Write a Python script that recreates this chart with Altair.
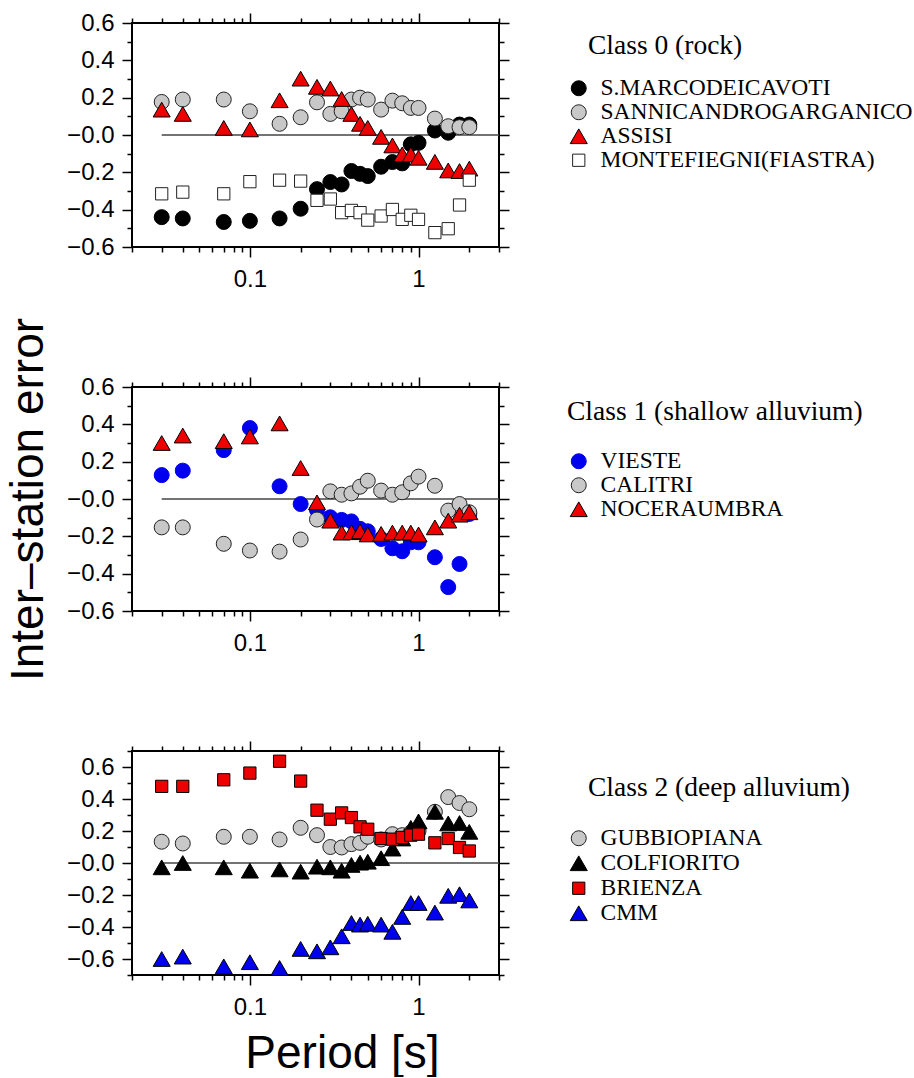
import altair as alt
import pandas as pd

# ---------------- data ----------------
periods = [0.03, 0.04, 0.07, 0.1, 0.15, 0.2, 0.25, 0.3, 0.35, 0.4, 0.45, 0.5,
           0.6, 0.7, 0.8, 0.9, 1.0, 1.25, 1.5, 1.75, 2.0]

# Class 0 (rock)
smarco = [-0.44, -0.447, -0.466, -0.46, -0.447, -0.395, -0.29, -0.252, -0.265, -0.193, -0.208,
          -0.22, -0.17, -0.145, -0.152, -0.05, -0.042, 0.024, 0.012, 0.056, 0.056]
sannic = [0.177, 0.19, 0.19, 0.127, 0.06, 0.095, 0.175, 0.113, 0.127, 0.19, 0.2,
          0.19, 0.136, 0.184, 0.17, 0.145, 0.145, 0.088, 0.047, 0.042, 0.042]
assisi = [0.136, 0.113, 0.038, 0.03, 0.186, 0.302, 0.258, 0.249, 0.193, 0.113, 0.06,
          0.038, -0.01, -0.056, -0.104, -0.104, -0.122, -0.144, -0.19, -0.193, -0.18]
montef = [-0.315, -0.306, -0.315, -0.25, -0.242, -0.247, -0.35, -0.343, -0.416, -0.404, -0.416,
          -0.456, -0.434, -0.399, -0.452, -0.43, -0.452, -0.523, -0.502, -0.375, -0.242]

# Class 1 (shallow alluvium)
vieste = [0.128, 0.152, 0.262, 0.38, 0.068, -0.027, -0.059, -0.098, -0.112, -0.12, -0.16,
          -0.173, -0.214, -0.264, -0.28, -0.232, -0.232, -0.312, -0.472, -0.348, -0.08]
calitri = [-0.152, -0.152, -0.24, -0.276, -0.282, -0.217, -0.11, 0.041, 0.023, 0.03, 0.066,
           0.098, 0.045, 0.023, 0.036, 0.084, 0.12, 0.071, -0.062, -0.027, -0.071]
nocera = [0.3, 0.34, 0.31, 0.335, 0.405, 0.166, -0.018, -0.116, -0.18, -0.178, -0.173,
          -0.19, -0.187, -0.18, -0.18, -0.18, -0.19, -0.152, -0.116, -0.084, -0.071]

# Class 2 (deep alluvium)
gubbio = [0.133, 0.122, 0.164, 0.164, 0.147, 0.22, 0.174, 0.1, 0.097, 0.118, 0.126,
          0.164, 0.147, 0.18, 0.174, 0.19, 0.2, 0.32, 0.412, 0.375, 0.336]
colfio = [-0.027, 0.0, -0.027, -0.048, -0.04, -0.054, -0.023, -0.027, -0.048, -0.012, 0.002,
          0.008, 0.03, 0.09, 0.153, 0.22, 0.26, 0.32, 0.247, 0.25, 0.195]
brienza = [0.479, 0.479, 0.52, 0.562, 0.636, 0.512, 0.33, 0.274, 0.313, 0.284, 0.226,
           0.211, 0.153, 0.149, 0.16, 0.174, 0.18, 0.126, 0.153, 0.097, 0.075]
cmm = [-0.6, -0.585, -0.646, -0.62, -0.656, -0.537, -0.552, -0.527, -0.458, -0.375, -0.385,
       -0.38, -0.385, -0.43, -0.337, -0.25, -0.25, -0.31, -0.205, -0.195, -0.234]

x_domain = [0.02, 3.0]
x_major = [0.1, 1.0]
x_minor = [0.02, 0.03, 0.04, 0.05, 0.06, 0.07, 0.08, 0.09,
           0.2, 0.3, 0.4, 0.5, 0.6, 0.7, 0.8, 0.9, 2.0, 3.0]
zero_line = {"x0": [0.03], "x1": [3.0], "y": [0.0]}

RED = "#ee0000"
BLUE = "#0000ee"
GRAY = "#c8c8c8"
DARK = "#222222"

SANS = "Liberation Sans"
SERIF = "Liberation Serif"
NB = "\u2800"  # blank indent in front of some legend headings

y_label_expr = ("datum.value > 0.01 ? format(datum.value, '.1f') : "
                "'\u2212' + format(abs(datum.value), '.1f')")


def ax(orient, values, size, labels, title=None, **kw):
    args = dict(orient=orient, values=values, tickSize=size, labels=labels,
                domain=False, grid=False, ticks=True, tickColor="black",
                tickWidth=1.5, labelFont=SANS, labelFontSize=24, labelColor="black")
    if title is not None:
        args.update(title=title, titleFont=SANS, titleFontSize=46,
                    titleFontWeight="normal", titleColor="black")
    else:
        args.update(title=None)
    args.update(kw)
    return alt.Axis(**args)


def panel(names, series, fills, strokes, shapes, sizes, legend_title, ydom, ymajor, yminor,
          legend_y, title_pad, row_pad, ytitle=None, xtitle=None):
    rows = []
    for n, vals in zip(names, series):
        for p, v in zip(periods, vals):
            rows.append({"station": n, "period": p, "value": v})
    df = pd.DataFrame(rows)

    xs = alt.Scale(type="log", domain=x_domain, nice=False)
    ys = alt.Scale(domain=ydom, nice=False, zero=False)

    base = alt.Chart(df)

    xkw = dict(format="~g", labelPadding=10, titlePadding=12)
    if xtitle is not None:
        xkw["titleX"] = 210
    zl = alt.Chart(pd.DataFrame(zero_line)).mark_rule(color="#444444", strokeWidth=1.3).encode(
        x=alt.X("x0:Q", scale=xs, axis=ax("bottom", x_major, 10, True, title=xtitle, **xkw)),
        x2="x1:Q",
        y=alt.Y("y:Q", scale=ys,
                axis=ax("left", ymajor, 10, True, title=ytitle, labelExpr=y_label_expr,
                        labelPadding=8, titlePadding=14)),
    )
    a2 = base.mark_point(opacity=0).encode(
        x=alt.X("period:Q", scale=xs, axis=ax("bottom", x_minor, 5, False)),
        y=alt.Y("value:Q", scale=ys, axis=ax("left", yminor, 5, False)),
    )
    a3 = base.mark_point(opacity=0).encode(
        x=alt.X("period:Q", scale=xs, axis=ax("top", x_major, 10, False)),
        y=alt.Y("value:Q", scale=ys, axis=ax("right", ymajor, 10, False)),
    )
    a4 = base.mark_point(opacity=0).encode(
        x=alt.X("period:Q", scale=xs, axis=ax("top", x_minor, 5, False)),
        y=alt.Y("value:Q", scale=ys, axis=ax("right", yminor, 5, False)),
    )

    leg = alt.Legend(title=legend_title, orient="none", legendX=435, legendY=legend_y,
                     titlePadding=title_pad, titleFont=SERIF, titleFontSize=27.5,
                     titleFontWeight="normal", titleColor="black", titleLimit=400,
                     labelFont=SERIF, labelFontSize=23.5, labelColor="black", rowPadding=row_pad,
                     labelOffset=10, symbolStrokeWidth=1, padding=0, labelLimit=400)
    pts = base.mark_point(filled=True, opacity=1, strokeWidth=1).encode(
        x=alt.X("period:Q", scale=xs, axis=None),
        y=alt.Y("value:Q", scale=ys, axis=None),
        fill=alt.Fill("station:N", scale=alt.Scale(domain=names, range=fills), legend=leg),
        stroke=alt.Stroke("station:N", scale=alt.Scale(domain=names, range=strokes), legend=leg),
        shape=alt.Shape("station:N", scale=alt.Scale(domain=names, range=shapes), legend=leg),
        size=alt.Size("station:N", scale=alt.Scale(type="ordinal", domain=names, range=sizes),
                      legend=leg),
    )
    return alt.layer(zl, a2, a3, a4, pts).resolve_axis(x="independent", y="independent").properties(
        width=367, height=224)


CIRC, TRI, SQ = 225, 290, 150

p1 = panel(["S.MARCODEICAVOTI", "SANNICANDROGARGANICO", "ASSISI", "MONTEFIEGNI(FIASTRA)"],
           [smarco, sannic, assisi, montef],
           ["black", GRAY, RED, "white"], ["black", DARK, "black", DARK],
           ["circle", "circle", "triangle-up", "square"], [CIRC, CIRC, TRI, SQ],
           NB + "Class 0 (rock)", [-0.6, 0.6], [-0.6, -0.4, -0.2, 0.0, 0.2, 0.4, 0.6],
           [-0.5, -0.3, -0.1, 0.1, 0.3, 0.5], 9, 17, -3)

p2 = panel(["VIESTE", "CALITRI", "NOCERAUMBRA"],
           [vieste, calitri, nocera],
           [BLUE, GRAY, RED], [BLUE, DARK, "black"],
           ["circle", "circle", "triangle-up"], [CIRC, CIRC, TRI],
           "Class 1 (shallow alluvium)", [-0.6, 0.6], [-0.6, -0.4, -0.2, 0.0, 0.2, 0.4, 0.6],
           [-0.5, -0.3, -0.1, 0.1, 0.3, 0.5], 11, 24, -1, ytitle="Inter\u2013station error")

p3 = panel(["GUBBIOPIANA", "COLFIORITO", "BRIENZA", "CMM"],
           [gubbio, colfio, brienza, cmm],
           [GRAY, "black", RED, BLUE], [DARK, "black", "black", "black"],
           ["circle", "triangle-up", "square", "triangle-up"], [CIRC, TRI, SQ, TRI],
           NB + "Class 2 (deep alluvium)", [-0.7, 0.7], [-0.6, -0.4, -0.2, 0.0, 0.2, 0.4, 0.6],
           [-0.7, -0.5, -0.3, -0.1, 0.1, 0.3, 0.5, 0.7], 23, 25, 0, xtitle="Period [s]")

chart = alt.vconcat(p1, p2, p3, spacing=140, bounds="flush").resolve_scale(
    fill="independent", stroke="independent", shape="independent", size="independent"
).resolve_legend(
    fill="independent", stroke="independent", shape="independent", size="independent"
).properties(
    padding={"left": 4, "top": 10, "right": 0, "bottom": 0},
    background="white",
).configure_view(stroke="black", strokeWidth=2)

chart.save("out.html", embed_options={"renderer": "svg", "actions": False})
